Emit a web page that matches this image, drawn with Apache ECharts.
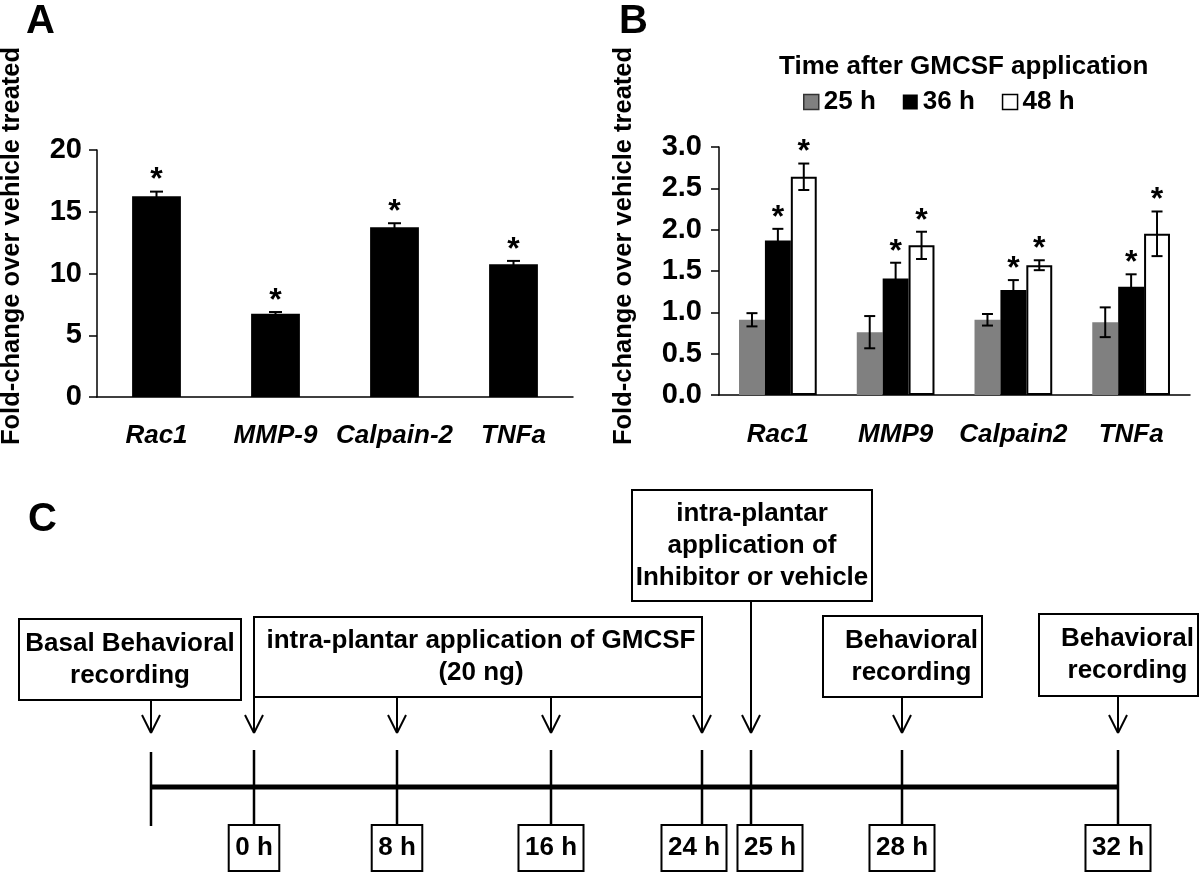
<!DOCTYPE html>
<html><head><meta charset="utf-8">
<script src="https://cdn.jsdelivr.net/npm/echarts@6/dist/echarts.min.js"></script>
<style>html,body{margin:0;padding:0;background:#fff}#c{width:1200px;height:873px}</style>
</head><body><div id="c"></div>
<script>
// ---------- Panel A data ----------
const genesA = ['Rac1', 'MMP-9', 'Calpain-2', 'TNFa'];
const foldA = [16.25, 6.75, 13.75, 10.75];
const errA = [0.38, 0.13, 0.32, 0.27];
const sigA = [true, true, true, true];

// ---------- Panel B data ----------
const genesB = ['Rac1', 'MMP9', 'Calpain2', 'TNFa'];
const timeGroups = ['25 h', '36 h', '48 h'];
const fold25 = [0.91, 0.76, 0.91, 0.88];
const fold36 = [1.87, 1.41, 1.27, 1.31];
const fold48 = [2.64, 1.81, 1.57, 1.95];
const err25 = [0.08, 0.195, 0.07, 0.18];
const err36 = [0.14, 0.19, 0.12, 0.15];
const err48 = [0.16, 0.165, 0.06, 0.27];
const sig25 = [false, false, false, false];
const sig36 = [true, true, true, true];
const sig48 = [true, true, true, true];

// ---------- Panel C (timeline) ----------
const timeLabels = ['0 h', '8 h', '16 h', '24 h', '25 h', '28 h', '32 h'];
const eventTexts = [
  'Basal Behavioral\nrecording',
  'intra-plantar application of GMCSF\n(20 ng)',
  'intra-plantar\napplication of\nInhibitor or vehicle',
  'Behavioral\nrecording',
  'Behavioral\nrecording'
];
// schematic layout of the diagram (not data)
const slotBasal = 151;
const slotTimes = [254, 397, 551, 702, 751, 902, 1118];
const labelShift = [0, 0, 0, -8, 19, 0, 0];
const eventBoxes = [
  {x0: 19, x1: 241, y0: 619, y1: 700, arrows: [slotBasal], dx: 0},
  {x0: 254, x1: 702, y0: 617, y1: 697, arrows: [254, 397, 551, 702], dx: 3},
  {x0: 632, x1: 872, y0: 490, y1: 601, arrows: [751], dx: 0},
  {x0: 823, x1: 982, y0: 616, y1: 697, arrows: [902], dx: 9},
  {x0: 1039, x1: 1198, y0: 614, y1: 696, arrows: [1118], dx: 9}
];

const FONT = "'Liberation Sans', Arial, Helvetica, sans-serif";
const BAR_GAP_B = 0.34;

function errRender(k, nSeries, capHalf, groupFrac) {
  return function (params, api) {
    const i = api.value(0), v = api.value(1), e = api.value(2), sig = api.value(3);
    const band = api.size([1, 0])[0];
    const bw = band * groupFrac / nSeries;
    const off = (k - (nSeries - 1) / 2) * bw;
    const top = api.coord([i, v + e]);
    const bot = api.coord([i, v - e]);
    const x = top[0] + off;
    const ls = {stroke: '#000', lineWidth: 2};
    const ch = [
      {type: 'line', shape: {x1: x, y1: top[1], x2: x, y2: bot[1]}, style: ls},
      {type: 'line', shape: {x1: x - capHalf, y1: top[1], x2: x + capHalf, y2: top[1]}, style: ls},
      {type: 'line', shape: {x1: x - capHalf, y1: bot[1], x2: x + capHalf, y2: bot[1]}, style: ls}
    ];
    if (sig) {
      ch.push({type: 'text', x: x, y: top[1] - 11, style: {text: '*', fill: '#000', font: 'bold 32px ' + FONT, textAlign: 'center', textVerticalAlign: 'middle'}});
    }
    return {type: 'group', children: ch};
  };
}

const measureCtx = document.createElement('canvas').getContext('2d');

function timelineRender(params, api) {
  if (params.dataIndex !== 0) return;
  const P = (x, y) => api.coord([x, y]);
  const ch = [];
  const lineY = 787;
  const line = (x1, y1, x2, y2, w) => {
    const a = P(x1, y1), b = P(x2, y2);
    ch.push({type: 'line', shape: {x1: a[0], y1: a[1], x2: b[0], y2: b[1]}, style: {stroke: '#000', lineWidth: w, lineCap: 'butt'}});
  };
  line(slotBasal, lineY, slotTimes[slotTimes.length - 1], lineY, 5);
  line(slotBasal, 752, slotBasal, 826, 2.5);
  const font = 'bold 26px ' + FONT;
  measureCtx.font = font;
  slotTimes.forEach((sx, j) => {
    line(sx, 750, sx, 825, 2.5);
    const cx = sx + labelShift[j];
    const tw = measureCtx.measureText(timeLabels[j]).width + 13;
    const a = P(cx - tw / 2, 825), b = P(cx + tw / 2, 871);
    ch.push({type: 'rect', shape: {x: a[0], y: a[1], width: b[0] - a[0], height: b[1] - a[1]}, style: {fill: '#fff', stroke: '#000', lineWidth: 2}});
    const c = P(cx, 848);
    ch.push({type: 'text', x: c[0], y: c[1], style: {text: timeLabels[j], font: font, fill: '#000', textAlign: 'center', textVerticalAlign: 'middle'}});
  });
  eventBoxes.forEach((bx, j) => {
    const a = P(bx.x0, bx.y0), b = P(bx.x1, bx.y1);
    ch.push({type: 'rect', shape: {x: a[0], y: a[1], width: b[0] - a[0], height: b[1] - a[1]}, style: {fill: '#fff', stroke: '#000', lineWidth: 2}});
    const c = P((bx.x0 + bx.x1) / 2 + bx.dx, (bx.y0 + bx.y1) / 2);
    ch.push({type: 'text', x: c[0], y: c[1], style: {text: eventTexts[j], font: font, lineHeight: 32, fill: '#000', textAlign: 'center', textVerticalAlign: 'middle'}});
    bx.arrows.forEach(ax => {
      line(ax, bx.y1, ax, 733, 2);
      line(ax - 9, 715, ax, 733, 2);
      line(ax + 9, 715, ax, 733, 2);
    });
  });
  return {type: 'group', children: ch};
}

const axisLineStyle = {color: '#000', width: 1.5};
const labelBold = {color: '#000', fontSize: 26, fontWeight: 'bold', fontFamily: FONT};
const tickBold = {color: '#000', fontSize: 29, fontWeight: 'bold', fontFamily: FONT};

const chart = echarts.init(document.getElementById('c'), null, {renderer: 'canvas'});
chart.setOption({
  animation: false,
  backgroundColor: '#fff',
  title: {
    text: 'Time after GMCSF application', left: 779, top: 54, padding: 0,
    textStyle: {color: '#000', fontSize: 26, fontWeight: 'bold', fontFamily: FONT}
  },
  legend: {
    left: 803, top: 89, padding: 0, itemWidth: 15, itemHeight: 15, itemGap: 27, icon: 'rect',
    textStyle: {color: '#000', fontSize: 26, fontWeight: 'bold', fontFamily: FONT},
    data: [
      {name: timeGroups[0], itemStyle: {color: '#808080', borderColor: '#333', borderWidth: 1.5}},
      {name: timeGroups[1], itemStyle: {color: '#000'}},
      {name: timeGroups[2], itemStyle: {color: '#fff', borderColor: '#000', borderWidth: 1.5}}
    ],
    selectedMode: false
  },
  graphic: [
    {type: 'text', x: 26, y: 2, style: {text: 'A', font: 'bold 40px ' + FONT, fill: '#000'}},
    {type: 'text', x: 619, y: 2, style: {text: 'B', font: 'bold 40px ' + FONT, fill: '#000'}},
    {type: 'text', x: 28, y: 500, style: {text: 'C', font: 'bold 40px ' + FONT, fill: '#000'}},
    {type: 'text', x: 12, y: 246, rotation: Math.PI / 2, style: {text: 'Fold-change over vehicle treated', font: 'bold 25.5px ' + FONT, fill: '#000', textAlign: 'center', textVerticalAlign: 'middle'}},
    {type: 'text', x: 624, y: 246, rotation: Math.PI / 2, style: {text: 'Fold-change over vehicle treated', font: 'bold 25.5px ' + FONT, fill: '#000', textAlign: 'center', textVerticalAlign: 'middle'}}
  ],
  grid: [
    {left: 97, top: 150, width: 476, height: 247},
    {left: 719, top: 147, width: 471, height: 248},
    {left: 0, top: 0, width: 1200, height: 873}
  ],
  xAxis: [
    {gridIndex: 0, type: 'category', data: genesA,
      axisLine: {lineStyle: axisLineStyle}, axisTick: {length: 8, lineStyle: axisLineStyle},
      axisLabel: Object.assign({}, labelBold, {fontStyle: 'italic', margin: 26, interval: 0})},
    {gridIndex: 1, type: 'category', data: genesB,
      axisLine: {lineStyle: axisLineStyle}, axisTick: {length: 7, lineStyle: axisLineStyle},
      axisLabel: Object.assign({}, labelBold, {fontStyle: 'italic', margin: 27, interval: 0})},
    {gridIndex: 2, type: 'value', min: 0, max: 1200, show: false}
  ],
  yAxis: [
    {gridIndex: 0, type: 'value', min: 0, max: 20, interval: 5,
      splitLine: {show: false}, axisLine: {show: true, lineStyle: axisLineStyle},
      axisTick: {show: true, length: 8, lineStyle: axisLineStyle},
      axisLabel: Object.assign({}, tickBold, {margin: 15})},
    {gridIndex: 1, type: 'value', min: 0, max: 3, interval: 0.5,
      splitLine: {show: false}, axisLine: {show: true, lineStyle: axisLineStyle},
      axisTick: {show: true, length: 8, lineStyle: axisLineStyle},
      axisLabel: Object.assign({}, tickBold, {margin: 17, formatter: v => v.toFixed(1)})},
    {gridIndex: 2, type: 'value', min: 0, max: 873, inverse: true, show: false}
  ],
  series: [
    {type: 'bar', xAxisIndex: 0, yAxisIndex: 0, data: foldA, barCategoryGap: '59%', itemStyle: {color: '#000'}, silent: true},
    {type: 'custom', xAxisIndex: 0, yAxisIndex: 0, z: 5, silent: true,
      data: foldA.map((v, i) => [i, v, errA[i], sigA[i] ? 1 : 0]),
      renderItem: errRender(0, 1, 6.5, 0.41)},

    {name: timeGroups[0], type: 'bar', xAxisIndex: 1, yAxisIndex: 1, data: fold25, barGap: '0%', barCategoryGap: (BAR_GAP_B * 100) + '%', itemStyle: {color: '#808080'}, silent: true},
    {name: timeGroups[1], type: 'bar', xAxisIndex: 1, yAxisIndex: 1, data: fold36, barGap: '0%', barCategoryGap: (BAR_GAP_B * 100) + '%', itemStyle: {color: '#000'}, silent: true},
    {name: timeGroups[2], type: 'bar', xAxisIndex: 1, yAxisIndex: 1, data: fold48, barGap: '0%', barCategoryGap: (BAR_GAP_B * 100) + '%', itemStyle: {color: '#fff', borderColor: '#000', borderWidth: 2}, silent: true},
    {type: 'custom', xAxisIndex: 1, yAxisIndex: 1, z: 5, silent: true,
      data: fold25.map((v, i) => [i, v, err25[i], sig25[i] ? 1 : 0]), renderItem: errRender(0, 3, 5.5, 1 - BAR_GAP_B)},
    {type: 'custom', xAxisIndex: 1, yAxisIndex: 1, z: 5, silent: true,
      data: fold36.map((v, i) => [i, v, err36[i], sig36[i] ? 1 : 0]), renderItem: errRender(1, 3, 5.5, 1 - BAR_GAP_B)},
    {type: 'custom', xAxisIndex: 1, yAxisIndex: 1, z: 5, silent: true,
      data: fold48.map((v, i) => [i, v, err48[i], sig48[i] ? 1 : 0]), renderItem: errRender(2, 3, 5.5, 1 - BAR_GAP_B)},

    {type: 'custom', xAxisIndex: 2, yAxisIndex: 2, silent: true, data: [[0, 0]], renderItem: timelineRender}
  ]
});
</script>
</body></html>
